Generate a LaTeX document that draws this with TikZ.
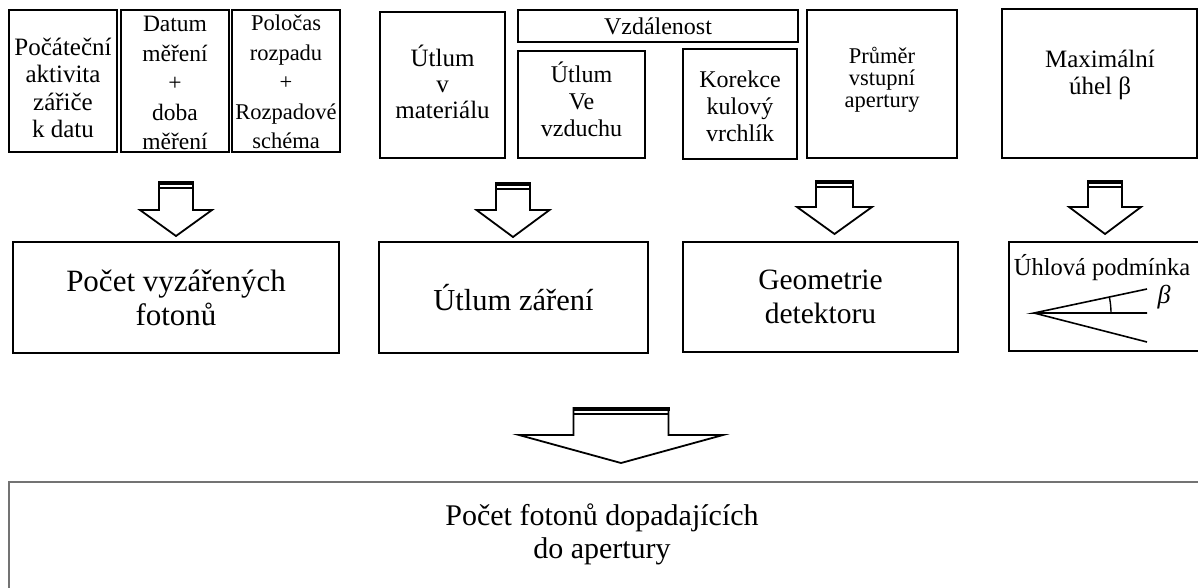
\documentclass[tikz,border=0pt]{standalone}
\usepackage{fontspec}
\setmainfont{Liberation Serif}
\newcommand\fs[2]{\fontsize{#1}{#2}\selectfont}
\newcommand\blockarrow[7]{% name, cx, top, shafthalf, headhalf, headtop, tip
  \coordinate (#1) at (#2,#3);
  \draw[arrowline] (#2-#4,#3) -- (#2-#4,#6) -- (#2-#5,#6) -- (#2,#7) -- (#2+#5,#6) -- (#2+#4,#6) -- (#2+#4,#3) -- cycle;
  \fill (#2-#4-1,#3-1) rectangle (#2+#4+1,#3+3);
  \draw[line width=1.6pt] (#2-#4,#3+6) -- (#2+#4,#3+6);
}
\begin{document}
\begin{tikzpicture}[x=1pt,y=-1pt,
  box/.style={draw, line width=1.8pt, inner sep=0pt, align=center},
  arrowline/.style={draw, line width=1.8pt, fill=white, line join=miter}]
\useasboundingbox (0,0) rectangle (1198,587);
% top row
\node[box, minimum width=108pt, minimum height=142pt] (b1) at (63,81) {};
\node[align=center, font=\fs{25}{27.5}] (t1) at (63,88) {Počáteční\\aktivita\\zářiče\\k datu};
\node[box, minimum width=108pt, minimum height=142pt] (b2) at (175,81) {};
\node[align=center, font=\fs{23.5}{29.5}] (t2) at (175,83) {Datum\\měření\\+\\doba\\měření};
\node[box, minimum width=108pt, minimum height=142pt] (b3) at (286,81) {};
\node[align=center, font=\fs{22.5}{29.5}] (t3) at (286,82) {Poločas\\rozpadu\\+\\Rozpadové\\schéma};
\node[box, minimum width=125pt, minimum height=146pt] (b4) at (442.5,85) {};
\node[align=center, font=\fs{25}{26}] (t4) at (442.5,82) {Útlum\\v\\materiálu};
\node[box, minimum width=280pt, minimum height=32pt, font=\fs{24}{26}] (vz) at (658,26) {Vzdálenost};
\node[box, minimum width=127pt, minimum height=107pt] (b5) at (581.5,104.5) {};
\node[align=center, font=\fs{24}{27}] (t5) at (581.5,99) {Útlum\\Ve\\vzduchu};
\node[box, minimum width=114pt, minimum height=110pt] (b6) at (740,104) {};
\node[align=center, font=\fs{24}{27}] (t6) at (740,106) {Korekce\\kulový\\vrchlík};
\node[box, minimum width=150pt, minimum height=148pt] (b7) at (882,84) {};
\node[align=center, font=\fs{22.5}{22}] (t7) at (882,80) {Průměr\\vstupní\\apertury};
\node[box, minimum width=195pt, minimum height=149pt] (b8) at (1099.5,83.5) {};
\node[align=center, font=\fs{25}{27}] (t8) at (1100,75) {Maximální\\úhel β};
% arrows
\blockarrow{a1}{176}{182}{17}{36}{210}{236}
\blockarrow{a2}{513}{183}{17}{36.5}{210}{237}
\blockarrow{a3}{834.5}{181}{18.5}{37.5}{207}{234}
\blockarrow{a4}{1105}{181}{17}{36}{207}{234}
% second row
\node[box, minimum width=326pt, minimum height=111pt, font=\fs{31}{34}] (A) at (176,297.5) {Počet vyzářených\\fotonů};
\node[box, minimum width=269pt, minimum height=111pt, font=\fs{30.5}{34}] (B) at (513.5,297.5) {Útlum záření};
\node[box, minimum width=275pt, minimum height=110pt, font=\fs{29.5}{34}] (C) at (820.5,297) {Geometrie\\detektoru};
\node[box, minimum width=196pt, minimum height=109pt] (D) at (1107,296.5) {};
\node[font=\fs{24.5}{26}] (Dt) at (1102,268) {Úhlová podmínka};
\coordinate (apex) at (1034,313);
\coordinate (up) at (1147,289);
\coordinate (mid) at (1147,313);
\coordinate (low) at (1147,342);
\draw[line width=1.6pt] (up) -- (apex) -- (mid) (apex) -- (low);
\draw[line width=1.4pt] (1111,313) arc[start angle=0, end angle=-12, radius=77];
\node[font=\fs{26}{28}\itshape] (beta) at (1164,297) {β};
% big arrow
\blockarrow{big}{621}{408}{47.5}{102}{435}{463}
% bottom box
\node[draw=black!55, line width=2.6pt, minimum width=1205pt, minimum height=130pt, inner sep=0pt] (E) at (611.5,547) {};
\node[align=center, font=\fs{30}{33}] (Et) at (602,534) {Počet fotonů dopadajících\\do apertury};
\end{tikzpicture}
\end{document}
